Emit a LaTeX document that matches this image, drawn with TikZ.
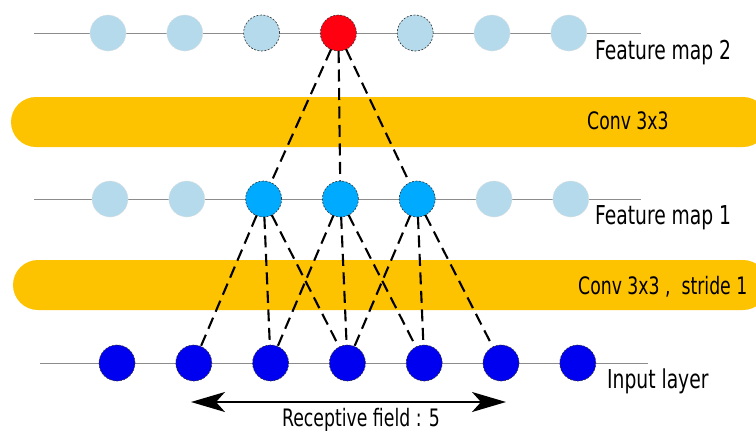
\documentclass[tikz,border=0pt]{standalone}
\usepackage{fontspec}
\setmainfont{DejaVu Sans Condensed}
\usetikzlibrary{positioning, arrows.meta}

\definecolor{fmlight}{RGB}{180,218,236}
\definecolor{fmactive}{RGB}{0,170,255}
\definecolor{fmred}{RGB}{255,0,16}
\definecolor{inblue}{RGB}{0,0,240}
\definecolor{convorange}{RGB}{253,194,0}

\tikzset{
  unit/.style={circle, minimum size=36pt, inner sep=0pt, outer sep=0pt, line width=0.6pt, dash pattern=on 2pt off 1.5pt},
  lightunit/.style={unit, fill=fmlight, draw=black!12},
  markedunit/.style={unit, fill=fmlight, draw=black!80},
  activeunit/.style={unit, fill=fmactive, draw=black!80},
  redunit/.style={unit, fill=fmred, draw=black!80},
  inputunit/.style={unit, fill=inblue, draw=black!80},
  layerline/.style={draw=black!45, line width=1pt},
  convband/.style={fill=convorange, rounded corners=25pt},
  link/.style={draw, line width=2.1pt, dash pattern=on 12pt off 6.5pt},
  layerlabel/.style={anchor=base west, inner sep=0pt, font=\fontsize{26}{30}\selectfont\addfontfeature{FakeStretch=0.8}},
  convlabel/.style={anchor=base west, inner sep=0pt, font=\fontsize{24}{28}\selectfont\addfontfeature{FakeStretch=0.8}}
}

\begin{document}
\begin{tikzpicture}[x=1pt, y=-1pt, node distance=40.8pt]
\useasboundingbox (0,0) rectangle (756,432);
\clip (0,0) rectangle (756,432);

% convolution bands
\fill[convband] (11,97) rectangle (768,147);
\fill[convband] (13,260) rectangle (768,310);
\node (conv2) [convlabel] at (587,129) {Conv 3x3};
\node (conv1) [convlabel] at (578,294) {Conv 3x3 ,\ \ stride 1};

% layer lines
\coordinate (fm2start) at (34,33);
\coordinate (fm2end) at (641,33);
\coordinate (fm1start) at (34,199);
\coordinate (fm1end) at (641,199);
\coordinate (instart) at (40,363);
\coordinate (inend) at (648,363);
\draw[layerline] (fm2start) -- (fm2end);
\draw[layerline] (fm1start) -- (fm1end);
\draw[layerline] (instart) -- (inend);

% feature map 2
\node (fm2a) [lightunit] at (108,33) {};
\node (fm2b) [lightunit, right=of fm2a] {};
\node (fm2c) [markedunit, right=of fm2b] {};
\node (fm2d) [redunit, right=of fm2c] {};
\node (fm2e) [markedunit, right=of fm2d] {};
\node (fm2f) [lightunit, right=of fm2e] {};
\node (fm2g) [lightunit, right=of fm2f] {};

% feature map 1
\node (fm1a) [lightunit] at (110,199) {};
\node (fm1b) [lightunit, right=of fm1a] {};
\node (fm1c) [activeunit, right=of fm1b] {};
\node (fm1d) [activeunit, right=of fm1c] {};
\node (fm1e) [activeunit, right=of fm1d] {};
\node (fm1f) [lightunit, right=of fm1e] {};
\node (fm1g) [lightunit, right=of fm1f] {};

% input layer
\node (ina) [inputunit] at (117,363) {};
\node (inb) [inputunit, right=of ina] {};
\node (inc) [inputunit, right=of inb] {};
\node (ind) [inputunit, right=of inc] {};
\node (ine) [inputunit, right=of ind] {};
\node (inf) [inputunit, right=of ine] {};
\node (ing) [inputunit, right=of inf] {};

\node (fm2label) [layerlabel] at (595,59) {Feature map 2};
\node (fm1label) [layerlabel] at (595,224) {Feature map 1};
\node (inlabel) [layerlabel] at (607,388) {Input layer};

% connections
\draw[link] (fm2d) -- (fm1c);
\draw[link] (fm2d) -- (fm1d);
\draw[link] (fm2d) -- (fm1e);
\draw[link] (fm1c) -- (inb);
\draw[link] (fm1c) -- (inc);
\draw[link] (fm1c) -- (ind);
\draw[link] (fm1d) -- (inc);
\draw[link] (fm1d) -- (ind);
\draw[link] (fm1d) -- (ine);
\draw[link] (fm1e) -- (ind);
\draw[link] (fm1e) -- (ine);
\draw[link] (fm1e) -- (inf);

% receptive field
\coordinate (rfleft) at (191,402);
\coordinate (rfright) at (506,402);
\draw[{Stealth[length=34pt, width=20pt, inset=9pt]}-{Stealth[length=34pt, width=20pt, inset=9pt]}, line width=2pt] (rfleft) -- (rfright);
\node (rflabel) [convlabel] at (282,426) {Receptive field : 5};
\end{tikzpicture}
\end{document}
